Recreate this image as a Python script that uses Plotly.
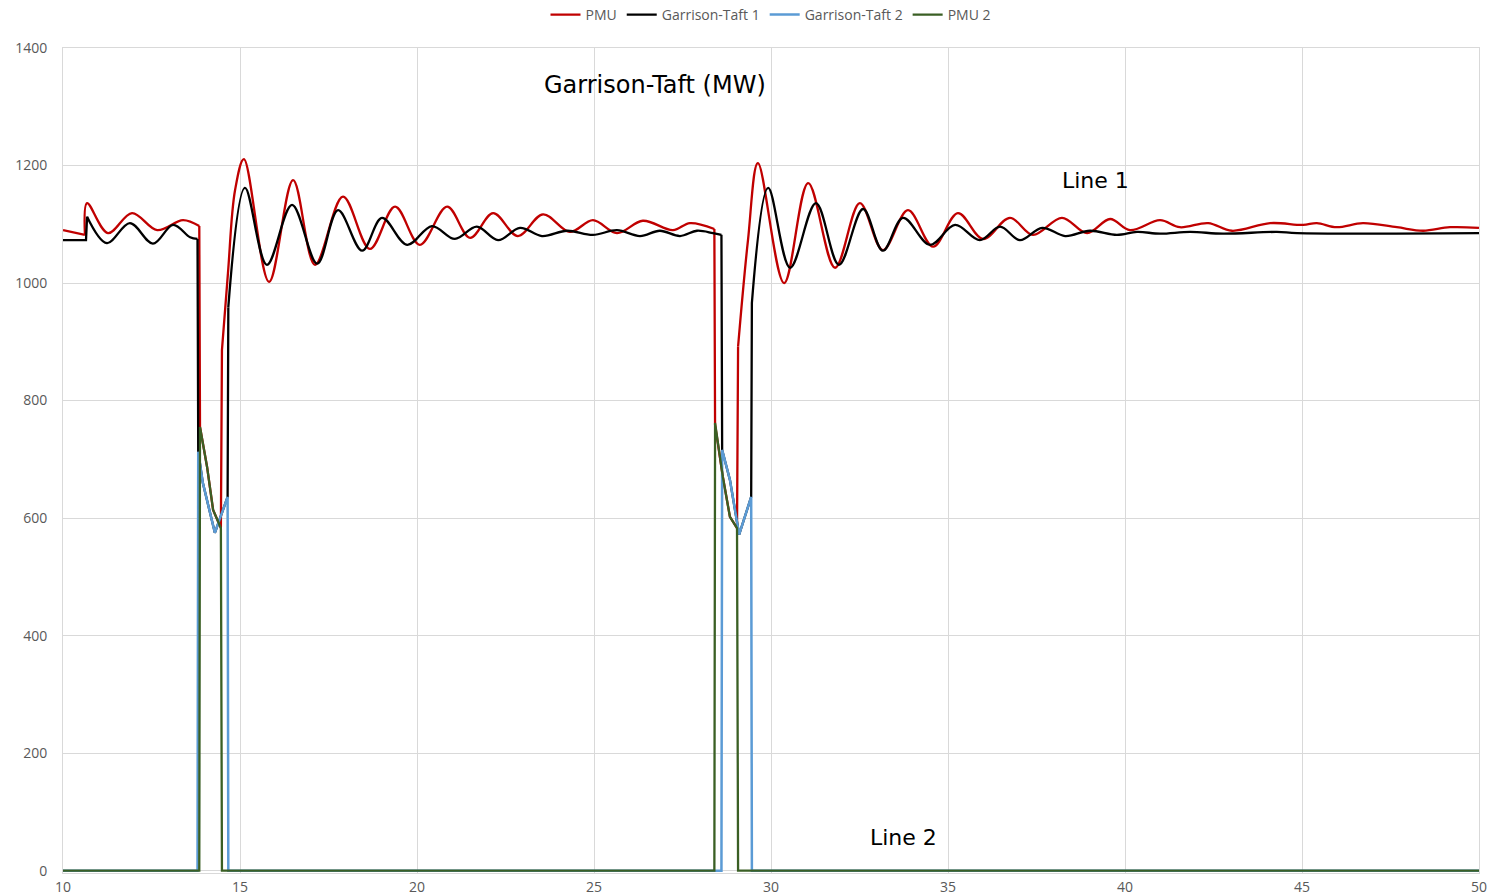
import plotly.graph_objects as go

# ---- data ----
pmu_t = [10.0, 10.62, 10.68, 11.27, 11.95, 12.66, 13.39, 13.85, 13.87, 14.07, 14.24, 14.46, 14.49,
         14.66, 14.86, 15.11, 15.82, 16.50, 17.12, 17.91, 18.67, 19.38, 20.08, 20.85, 21.50, 22.15,
         22.85, 23.56, 24.32, 24.97, 25.65, 26.38, 27.23, 27.71, 28.40, 28.42, 28.64, 28.84, 29.04,
         29.07, 29.35, 29.63, 30.37, 31.05, 31.81, 32.51, 33.16, 33.87, 34.58, 35.28, 35.99, 36.75,
         37.40, 38.22, 38.93, 39.58, 40.14, 40.99, 41.55, 42.35, 43.02, 44.10, 45.03, 45.42, 45.98,
         46.72, 47.68, 48.42, 49.18, 50.0]
pmu_v = [1090, 1082, 1136, 1085, 1119, 1090, 1107, 1097, 755, 687, 614, 583, 886,
         1017, 1158, 1211, 1002, 1175, 1031, 1147, 1058, 1130, 1065, 1130, 1077, 1119,
         1080, 1117, 1087, 1107, 1085, 1106, 1090, 1102, 1092, 759, 670, 602, 583,
         892, 1073, 1204, 1000, 1170, 1026, 1136, 1056, 1124, 1062, 1119, 1075, 1111,
         1082, 1111, 1085, 1109, 1090, 1107, 1095, 1102, 1089, 1102, 1099, 1102, 1095,
         1102, 1095, 1089, 1095, 1094]

gt1_t = [10.0, 10.65, 10.68, 11.24, 11.89, 12.54, 13.11, 13.59, 13.80, 13.82, 13.95, 14.29, 14.65,
         14.67, 15.14, 15.76, 16.47, 17.18, 17.77, 18.45, 19.01, 19.72, 20.42, 21.07, 21.69, 22.29,
         22.91, 23.53, 24.24, 24.97, 25.65, 26.30, 26.86, 27.43, 27.91, 28.36, 28.60, 28.62, 28.84,
         29.10, 29.44, 29.46, 29.92, 30.54, 31.27, 31.92, 32.60, 33.16, 33.73, 34.49, 35.20, 35.90,
         36.47, 37.03, 37.66, 38.31, 39.01, 39.77, 40.34, 40.99, 41.84, 42.77, 44.29, 44.86, 50.0]
gt1_v = [1073, 1073, 1113, 1068, 1102, 1067, 1099, 1078, 1075, 713, 660, 575, 636,
         959, 1162, 1031, 1133, 1033, 1124, 1055, 1111, 1065, 1097, 1075, 1096, 1073,
         1094, 1080, 1089, 1082, 1090, 1080, 1089, 1080, 1089, 1085, 1082, 716, 665,
         572, 636, 966, 1162, 1026, 1136, 1031, 1126, 1055, 1111, 1065, 1099, 1073,
         1096, 1073, 1094, 1080, 1089, 1082, 1087, 1084, 1087, 1084, 1087, 1085, 1085]

gt2_t = [10.0, 13.80, 13.82, 13.95, 14.29, 14.65, 14.67, 28.60, 28.62, 28.84, 29.10, 29.44, 29.46, 50.0]
gt2_v = [0, 0, 713, 660, 575, 636, 0, 0, 716, 665, 572, 636, 0, 0]

pmu2_t = [10.0, 13.85, 13.87, 14.07, 14.24, 14.46, 14.49, 28.40, 28.42, 28.64, 28.84, 29.04, 29.07, 50.0]
pmu2_v = [0, 0, 755, 687, 614, 583, 0, 0, 762, 670, 602, 583, 0, 0]

x_ticks = [10, 15, 20, 25, 30, 35, 40, 45, 50]
y_ticks = [0, 200, 400, 600, 800, 1000, 1200, 1400]

# index ranges: smooth oscillation parts drawn as spline, jumps drawn straight
pmu_parts = [(0, 1, "linear"), (1, 7, "spline"), (7, 12, "linear"), (12, 34, "spline"),
             (34, 39, "linear"), (39, len(pmu_t) - 1, "spline")]
gt1_parts = [(0, 2, "linear"), (2, 8, "spline"), (8, 13, "linear"), (13, 36, "spline"),
             (36, 41, "linear"), (41, len(gt1_t) - 1, "spline")]

fig = go.Figure()


def add_series(t, v, parts, name, color, width):
    for k, (a, b, shape) in enumerate(parts):
        fig.add_trace(go.Scatter(
            x=t[a:b + 1], y=v[a:b + 1], name=name, mode="lines",
            legendgroup=name, showlegend=(k == 0),
            line=dict(color=color, width=width, shape=shape, smoothing=1.0)))


add_series(pmu_t, pmu_v, pmu_parts, "PMU", "#C00000", 2.3)
add_series(gt1_t, gt1_v, gt1_parts, "Garrison-Taft 1", "#000000", 2.3)
fig.add_trace(go.Scatter(x=gt2_t, y=gt2_v, name="Garrison-Taft 2", mode="lines",
                         line=dict(color="#5B9BD5", width=2.5)))
fig.add_trace(go.Scatter(x=pmu2_t, y=pmu2_v, name="PMU 2", mode="lines",
                         line=dict(color="#3A5F24", width=2.3)))

tickfont = dict(family="Open Sans", size=14, color="#595959")
fig.update_layout(
    width=1493, height=896,
    margin=dict(l=63, r=14, t=48, b=23, autoexpand=False),
    plot_bgcolor="white", paper_bgcolor="white",
    showlegend=True,
    legend=dict(orientation="h", x=0.5, xanchor="center", y=1.040, yanchor="middle",
                font=dict(family="Open Sans", size=14, color="#595959"),
                traceorder="normal", itemwidth=30),
    xaxis=dict(range=[10, 50], tickvals=x_ticks, ticktext=[str(v) for v in x_ticks],
               showgrid=True, gridcolor="#d9d9d9", gridwidth=1, zeroline=False,
               showline=True, linecolor="#d9d9d9", mirror=True,
               ticks="outside", ticklen=1, tickcolor="rgba(0,0,0,0)",
               tickfont=tickfont, automargin=False),
    yaxis=dict(range=[-4, 1400], tickvals=y_ticks, ticktext=[str(v) for v in y_ticks],
               showgrid=True, gridcolor="#d9d9d9", gridwidth=1, zeroline=False,
               showline=True, linecolor="#d9d9d9", mirror=True,
               ticks="outside", ticklen=12, tickcolor="rgba(0,0,0,0)",
               tickfont=tickfont, automargin=False),
    annotations=[
        dict(x=26.72, y=1337, xref="x", yref="y", text="Garrison-Taft (MW)", showarrow=False,
             xanchor="center", yanchor="middle",
             font=dict(family="DejaVu Sans", size=24, color="#000000")),
        dict(x=39.18, y=1175, xref="x", yref="y", text="Line 1", showarrow=False,
             xanchor="center", yanchor="middle",
             font=dict(family="DejaVu Sans", size=22, color="#000000")),
        dict(x=33.73, y=56, xref="x", yref="y", text="Line 2", showarrow=False,
             xanchor="center", yanchor="middle",
             font=dict(family="DejaVu Sans", size=22, color="#000000")),
    ],
)

fig.write_html("out.html")
